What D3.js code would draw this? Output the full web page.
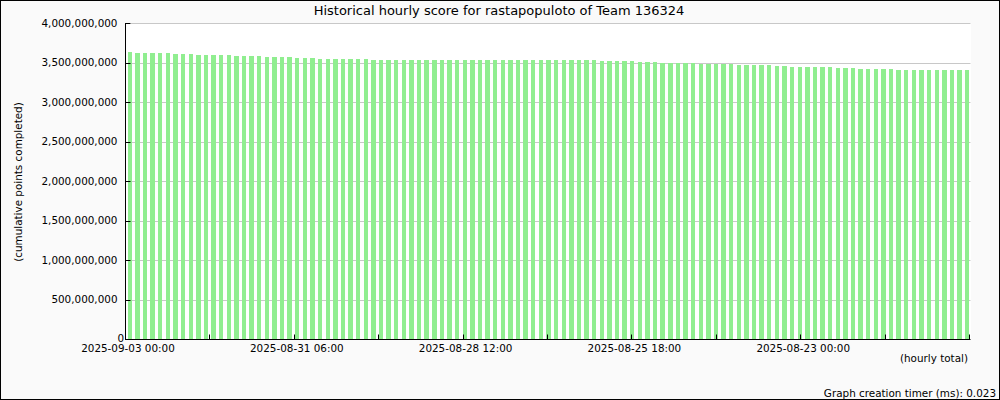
<!DOCTYPE html>
<html>
<head>
<meta charset="utf-8">
<script src="https://cdn.jsdelivr.net/npm/d3@7/dist/d3.min.js"></script>
<style>
  html, body { margin: 0; padding: 0; background: #fafafa; }
  svg { display: block; }
  text { font-family: "DejaVu Sans", sans-serif; fill: #000; }
</style>
</head>
<body>
<svg id="chart" width="1000" height="400"></svg>
<script>
const title = "Historical hourly score for rastapopuloto of Team 136324";
const yAxisTitle = "(cumulative points completed)";
const xAxisNote = "(hourly total)";
const footer = "Graph creation timer (ms): 0.023";

// x tick labels (every 66 hours; axis runs backwards in time)
const xTickLabels = ["2025-09-03 00:00", "2025-08-31 06:00", "2025-08-28 12:00", "2025-08-25 18:00", "2025-08-23 00:00"];
const xSpanHours = 330;
const xMinorHours = 33;

// y tick values
const yTicks = [0, 500000000, 1000000000, 1500000000, 2000000000, 2500000000, 3000000000, 3500000000, 4000000000];

// cumulative score per 3-hour bar, newest (left) to oldest (right)
const scores = [
  3637000000,
  3624000000, 3624000000, 3624000000, 3624000000, 3624000000,
  3611000000, 3611000000, 3611000000,
  3599000000, 3599000000, 3599000000, 3599000000, 3599000000,
  3586000000, 3586000000, 3586000000, 3586000000,
  3573000000, 3573000000, 3573000000, 3573000000,
  3561000000, 3561000000, 3561000000,
  3548000000, 3548000000, 3548000000, 3548000000, 3548000000, 3548000000, 3548000000,
  3535000000, 3535000000, 3535000000, 3535000000, 3535000000, 3535000000, 3535000000, 3535000000, 3535000000, 3535000000,
  3535000000, 3535000000, 3535000000, 3535000000, 3535000000, 3535000000, 3535000000, 3535000000, 3535000000, 3535000000,
  3535000000, 3535000000, 3535000000, 3535000000, 3535000000, 3535000000, 3535000000, 3535000000, 3535000000, 3535000000,
  3523000000, 3523000000, 3523000000, 3523000000, 3523000000,
  3510000000, 3510000000, 3510000000,
  3498000000, 3498000000, 3498000000, 3498000000, 3498000000,
  3491000000, 3491000000, 3491000000, 3491000000, 3491000000,
  3472000000, 3472000000, 3472000000, 3472000000, 3472000000,
  3459000000, 3459000000,
  3447000000, 3447000000, 3447000000, 3447000000, 3447000000, 3447000000,
  3434000000, 3434000000, 3434000000,
  3421000000, 3421000000, 3421000000, 3421000000, 3421000000,
  3409000000, 3409000000, 3409000000, 3409000000, 3409000000, 3409000000, 3409000000, 3409000000, 3409000000, 3409000000
];

(function () {
const svg = d3.select("#chart");
const W = 1000, H = 400;
const pLeft = 126, pRight = 970, pTop = 23.5, pBottom = 339.5;

svg.append("rect").attr("x", 0.5).attr("y", 0.5).attr("width", W - 1).attr("height", H - 1)
  .attr("fill", "#fafafa").attr("stroke", "#000");

svg.append("rect").attr("x", pLeft).attr("y", 23).attr("width", pRight - pLeft + 1).attr("height", pBottom - 23)
  .attr("fill", "#fff");

const y = d3.scaleLinear().domain([0, 4000000000]).range([pBottom, pTop]);
const xBand = d3.scaleBand().domain(d3.range(scores.length)).range([127.6, 969.4]).paddingInner(0.42).paddingOuter(0);
const xHours = d3.scaleLinear().domain([0, xSpanHours]).range([pLeft, pRight]);

// gridlines
svg.append("g").selectAll("line").data(yTicks.filter(d => d > 0)).join("line")
  .attr("x1", pLeft + 5).attr("x2", pRight + 0.5)
  .attr("y1", d => Math.floor(y(d)) + 0.5).attr("y2", d => Math.floor(y(d)) + 0.5)
  .attr("stroke", "#c8c8c8").attr("stroke-width", 1);

// bars
svg.append("g").selectAll("rect").data(scores).join("rect")
  .attr("x", (d, i) => xBand(i))
  .attr("width", xBand.bandwidth())
  .attr("y", d => y(d))
  .attr("height", d => y(0) - y(d))
  .attr("fill", "#90ee90")
  .attr("shape-rendering", "crispEdges");

// axes lines
svg.append("line").attr("x1", pLeft - 0.5).attr("x2", pLeft - 0.5).attr("y1", 23).attr("y2", pBottom + 0.5)
  .attr("stroke", "#000");
svg.append("line").attr("x1", pLeft - 0.5).attr("x2", pRight + 0.5).attr("y1", pBottom).attr("y2", pBottom)
  .attr("stroke", "#000");

// y ticks + labels
const yFmt = d3.format(",");
const yg = svg.append("g");
yTicks.forEach(t => {
  const yy = Math.floor(y(t)) + 0.5;
  yg.append("line").attr("x1", pLeft - 0.5).attr("x2", pLeft + 4.5).attr("y1", yy).attr("y2", yy).attr("stroke", "#000");
  yg.append("text")
    .attr("x", t === 0 ? 124 : 117.5)
    .attr("y", t === 0 ? 341.5 : y(t) + 3.4)
    .attr("text-anchor", "end")
    .attr("font-size", "10.4px")
    .text(yFmt(t));
});

// x ticks + labels
const xg = svg.append("g");
const hourTicks = d3.range(0, xSpanHours + 1, xMinorHours);
hourTicks.forEach((h, k) => {
  const xx = Math.round(xHours(h)) - 0.5;
  xg.append("line").attr("x1", xx).attr("x2", xx).attr("y1", pBottom).attr("y2", pBottom - 5).attr("stroke", "#000");
  if (k % 2 === 0 && xTickLabels[k / 2] !== undefined) {
    xg.append("text")
      .attr("x", xHours(h) + 2)
      .attr("y", 351.7)
      .attr("text-anchor", "middle")
      .attr("font-size", "10.4px")
      .text(xTickLabels[k / 2]);
  }
});

// title
svg.append("text").attr("x", 499).attr("y", 15).attr("text-anchor", "middle")
  .attr("font-size", "13px").text(title);

// y axis title
svg.append("text").attr("transform", "translate(22,182) rotate(-90)").attr("text-anchor", "middle")
  .attr("font-size", "10.4px").text(yAxisTitle);

// x note
svg.append("text").attr("x", 968).attr("y", 362).attr("text-anchor", "end")
  .attr("font-size", "10.4px").text(xAxisNote);

// footer
svg.append("text").attr("x", 996).attr("y", 397).attr("text-anchor", "end")
  .attr("font-size", "10.4px").text(footer);
})();
</script>
</body>
</html>
